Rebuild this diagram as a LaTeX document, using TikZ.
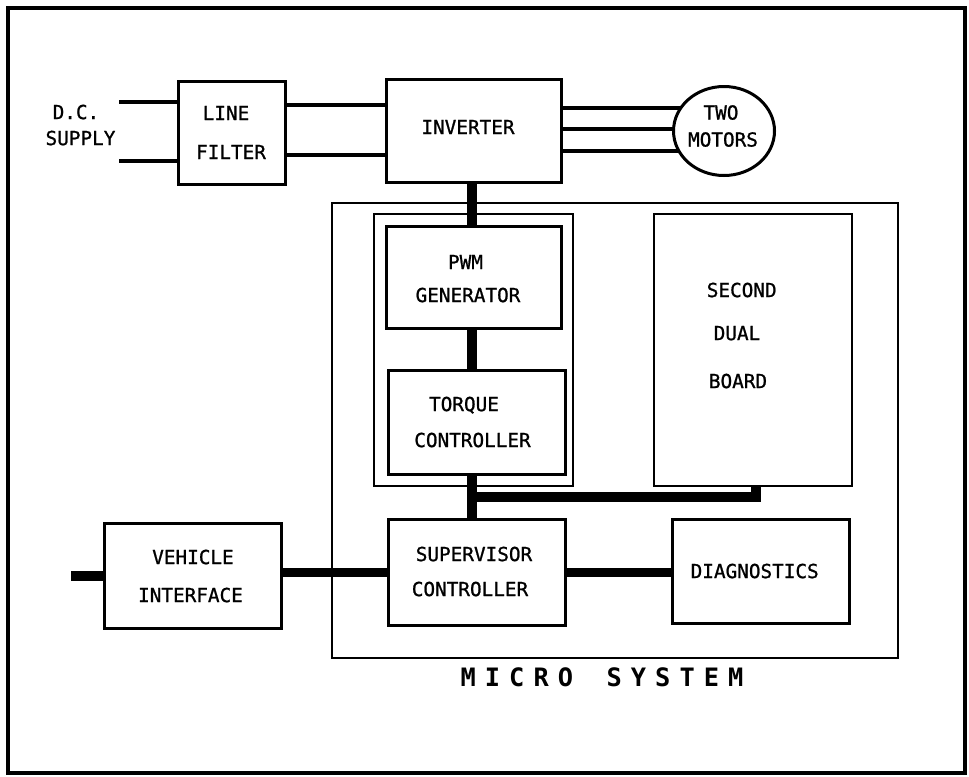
\documentclass[tikz,border=0pt]{standalone}
\usepackage{fontspec}
\setmonofont{DejaVu Sans Mono}
\newfontfamily\diagfont{DejaVu Sans Mono}[FakeBold=1]
\usetikzlibrary{shapes.geometric,backgrounds}
\newcommand\lsp{\kern6.8pt}
\begin{document}
\begin{tikzpicture}[x=0.75pt,y=-0.75pt,
  thickbox/.style={draw,line width=2.25pt,inner sep=0pt,fill=white},
  thinbox/.style={draw,line width=1.5pt,inner sep=0pt},
  lbl/.style={font=\diagfont\fontsize{14.5}{17}\selectfont,inner sep=0pt,text height=10.6pt,text depth=0pt},
  biglbl/.style={font=\ttfamily\bfseries\fontsize{19}{22}\selectfont,inner sep=0pt,text height=13.85pt,text depth=0pt},
  wire/.style={line width=3pt},
  bus/.style={line width=7pt},
]
\useasboundingbox (0,0) rectangle (969,776);
\draw[line width=3pt] (8,8) rectangle (965,773);

% micro system and groups
\node[thinbox,minimum width=424.5pt,minimum height=341.25pt] (micro) at (615,430.5) {};
\node[thinbox,minimum width=149.25pt,minimum height=204pt] (grp) at (473.5,350) {};
\node[thinbox,minimum width=148.5pt,minimum height=204pt] (sdb) at (753,350) {};

% thick boxes
\node[thickbox,minimum width=80.25pt,minimum height=77.25pt] (lf) at (232,133) {};
\node[thickbox,minimum width=131.25pt,minimum height=77.25pt] (inv) at (474,131) {};
\node[thickbox,minimum width=131.25pt,minimum height=76.5pt] (pwm) at (474,277.5) {};
\node[thickbox,minimum width=132.75pt,minimum height=78pt] (tq) at (477,422.5) {};
\node[thickbox,minimum width=132.75pt,minimum height=79.5pt] (sup) at (477,572.5) {};
\node[thickbox,minimum width=132.75pt,minimum height=78pt] (diag) at (761,571.5) {};
\node[thickbox,minimum width=132.75pt,minimum height=78.75pt] (vi) at (193,576) {};
\node[draw,ellipse,line width=2.25pt,fill=white,inner sep=0pt,minimum width=75.75pt,minimum height=66.75pt] (mot) at (724,131) {};

% labels
\node[lbl] (t1) at (76,112) {D.C.};
\node[lbl] (t2) at (80.5,138) {SUPPLY};
\node[lbl] (t3) at (226,113) {LINE};
\node[lbl] (t4) at (231,152) {FILTER};
\node[lbl] (t5) at (468,127) {INVERTER};
\node[lbl] (t6) at (721,112.5) {TWO};
\node[lbl] (t7) at (723,139.5) {MOTORS};
\node[lbl] (t8) at (465.5,262) {PWM};
\node[lbl] (t9) at (468,295) {GENERATOR};
\node[lbl] (t10) at (464,404) {TORQUE};
\node[lbl] (t11) at (472.5,440) {CONTROLLER};
\node[lbl] (t12) at (741.7,290) {SECOND};
\node[lbl] (t13) at (737,333) {DUAL};
\node[lbl] (t14) at (738,381) {BOARD};
\node[lbl] (t15) at (754.7,571) {DIAGNOSTICS};
\node[lbl] (t16) at (193,557) {VEHICLE};
\node[lbl] (t17) at (190.5,595) {INTERFACE};
\node[lbl] (t18) at (474,554) {SUPERVISOR};
\node[lbl] (t19) at (470,589) {CONTROLLER};
\node[biglbl] (t20) at (602,677.5) {M\lsp I\lsp C\lsp R\lsp O\lsp\kern11.5pt\lsp S\lsp Y\lsp S\lsp T\lsp E\lsp M};

% wires
\coordinate (dc1) at (119,102);
\coordinate (dc2) at (119,161);
\draw[wire] (dc1) -- (lf.west |- dc1);
\draw[wire] (dc2) -- (lf.west |- dc2);
\draw[wire] (lf.east |- 0,105) -- (inv.west |- 0,105);
\draw[wire] (lf.east |- 0,155) -- (inv.west |- 0,155);
\begin{pgfonlayer}{background}
\draw[wire] (inv.east |- 0,108) -- (mot.center |- 0,108);
\draw[wire] (inv.east |- 0,129) -- (mot.center |- 0,129);
\draw[wire] (inv.east |- 0,151) -- (mot.center |- 0,151);
\end{pgfonlayer}

% buses
\draw[bus] (inv.south -| 472,0) -- (pwm.north -| 472,0);
\draw[bus] (pwm.south -| 472,0) -- (tq.north -| 472,0);
\draw[bus] (tq.south -| 472,0) -- (sup.north -| 472,0);
\coordinate (j) at (472,497);
\draw[bus] (j) -| (sdb.south -| 756,0);
\coordinate (vin) at (71,576);
\draw[bus] (vin) -- (vi.west);
\draw[bus] (vi.east |- sup.west) -- (sup.west);
\draw[bus] (sup.east) -- (diag.west |- sup.east);
\end{tikzpicture}
\end{document}
